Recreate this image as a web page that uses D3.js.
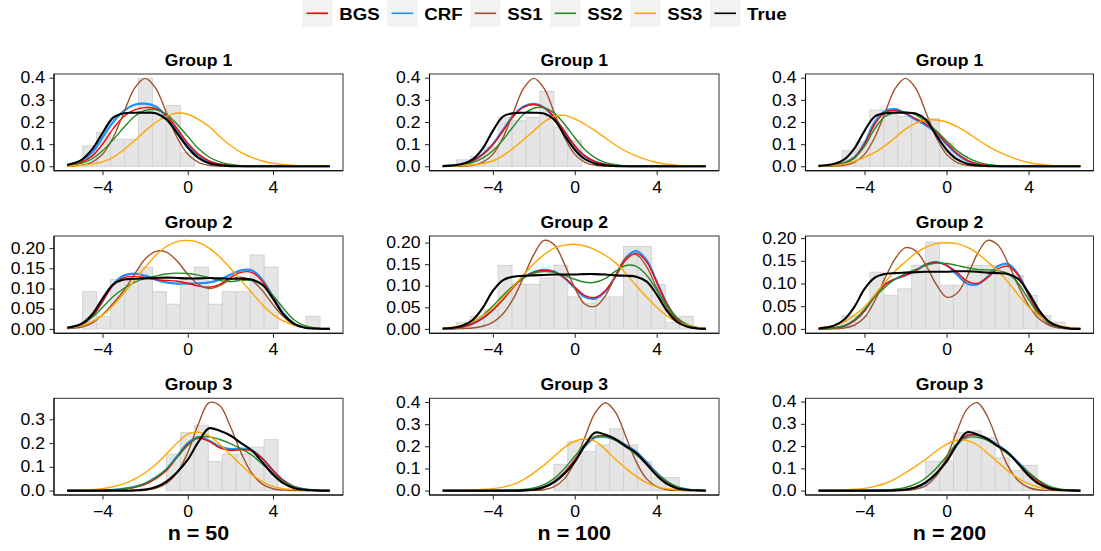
<!DOCTYPE html>
<html><head><meta charset="utf-8">
<script src="https://cdn.jsdelivr.net/npm/d3@7"></script>
<style>body{margin:0;background:#fff}</style>
</head><body><svg id="c" width="1101" height="551"></svg>
<script>
// ---------------- DATA ----------------
const seriesNames = ["BGS","CRF","SS1","SS2","SS3","True"];
const groupTitles = ["Group 1","Group 2","Group 3"];
const sampleLabels = ["n = 50","n = 100","n = 200"];
const xTickValues = [-4,0,4];

// density evaluation grids (x) per column
const gridN50  = [-5.66,-5,-4.5,-4,-3.5,-3,-2.5,-2,-1.5,-1,-0.5,0,0.5,1,1.5,2,2.5,3,3.5,4,4.5,5,5.5,6,6.67];
const gridN100 = [-6.45,-6,-5.5,-5,-4.5,-4,-3.5,-3,-2.5,-2,-1.5,-1,-0.5,0,0.5,1,1.5,2,2.5,3,3.5,4,4.5,5,5.5,6,6.4];
const gridN200 = [-6.24,-5.5,-5,-4.5,-4,-3.5,-3,-2.5,-2,-1.5,-1,-0.5,0,0.5,1,1.5,2,2.5,3,3.5,4,4.5,5,5.5,6,6.53];
const binWidthN50 = 0.655, binWidthN100 = 0.68, binWidthN200 = 0.68;

// ---- Group 1, n = 50
const g1_n50_BGS  = [0.004,0.018,0.045,0.1,0.17,0.225,0.255,0.265,0.26,0.23,0.17,0.105,0.055,0.025,0.01,0.004,0.001,0,0,0,0,0,0,0,0];
const g1_n50_CRF  = [0.006,0.025,0.06,0.13,0.2,0.25,0.278,0.283,0.27,0.225,0.16,0.095,0.05,0.022,0.009,0.003,0.001,0,0,0,0,0,0,0,0];
const g1_n50_SS1  = [0.001,0.004,0.018,0.054,0.13,0.242,0.352,0.397,0.352,0.242,0.13,0.054,0.018,0.004,0.001,0,0,0,0,0,0,0,0,0,0];
const g1_n50_SS2  = [0.003,0.013,0.033,0.07,0.12,0.175,0.225,0.252,0.255,0.235,0.19,0.135,0.08,0.042,0.02,0.008,0.003,0.001,0,0,0,0,0,0,0];
const g1_n50_SS3  = [0.002,0.005,0.01,0.02,0.04,0.075,0.115,0.16,0.198,0.225,0.24,0.235,0.212,0.18,0.135,0.095,0.063,0.04,0.024,0.014,0.008,0.004,0.002,0.001,0];
const g1_n50_True = [0.006,0.028,0.075,0.15,0.22,0.24,0.242,0.242,0.24,0.212,0.15,0.085,0.038,0.014,0.005,0.001,0,0,0,0,0,0,0,0,0];
const g1_n50_histStart = -4.93;
const g1_n50_hist = [0.092,0.153,0.122,0.122,0.397,0.244,0.275,0.061];

// ---- Group 2, n = 50
const g2_n50_BGS  = [0.002,0.01,0.03,0.068,0.108,0.127,0.13,0.127,0.122,0.12,0.118,0.113,0.106,0.103,0.11,0.127,0.14,0.14,0.118,0.078,0.036,0.012,0.003,0.001,0];
const g2_n50_CRF  = [0.002,0.01,0.03,0.068,0.11,0.132,0.137,0.132,0.122,0.115,0.112,0.112,0.113,0.115,0.122,0.134,0.145,0.145,0.122,0.08,0.038,0.013,0.004,0.001,0];
const g2_n50_SS1  = [0.001,0.004,0.014,0.035,0.063,0.095,0.135,0.173,0.192,0.19,0.168,0.135,0.11,0.1,0.107,0.122,0.128,0.12,0.095,0.06,0.03,0.01,0.003,0.001,0];
const g2_n50_SS2  = [0.003,0.012,0.028,0.053,0.08,0.1,0.115,0.125,0.131,0.136,0.138,0.137,0.133,0.127,0.12,0.117,0.12,0.12,0.108,0.083,0.05,0.022,0.008,0.002,0];
const g2_n50_SS3  = [0.002,0.008,0.018,0.034,0.058,0.088,0.12,0.152,0.182,0.204,0.216,0.219,0.214,0.2,0.178,0.15,0.12,0.09,0.06,0.036,0.019,0.009,0.004,0.001,0];
const g2_n50_True = [0.003,0.012,0.035,0.075,0.11,0.122,0.124,0.125,0.126,0.127,0.126,0.125,0.125,0.126,0.125,0.124,0.124,0.122,0.11,0.075,0.035,0.012,0.003,0.001,0];
const g2_n50_histStart = -4.93;
const g2_n50_hist = [0.092,0.031,0.122,0.122,0.153,0.092,0.061,0.122,0.153,0.061,0.092,0.092,0.183,0.153,0,0,0.031];

// ---- Group 3, n = 50
const g3_n50_BGS  = [0,0,0,0.001,0.002,0.006,0.013,0.026,0.05,0.085,0.14,0.195,0.22,0.208,0.18,0.17,0.172,0.168,0.135,0.085,0.042,0.016,0.005,0.001,0];
const g3_n50_CRF  = [0,0,0,0.001,0.003,0.008,0.016,0.03,0.055,0.09,0.145,0.2,0.225,0.21,0.185,0.175,0.177,0.17,0.135,0.085,0.042,0.016,0.005,0.001,0];
const g3_n50_SS1  = [0,0,0,0,0,0,0,0.002,0.01,0.03,0.075,0.16,0.28,0.37,0.358,0.27,0.16,0.074,0.027,0.008,0.002,0,0,0,0];
const g3_n50_SS2  = [0,0,0,0.001,0.003,0.007,0.015,0.03,0.055,0.09,0.14,0.19,0.225,0.226,0.215,0.198,0.176,0.15,0.112,0.072,0.038,0.016,0.006,0.002,0];
const g3_n50_SS3  = [0.001,0.002,0.004,0.008,0.016,0.028,0.048,0.075,0.11,0.155,0.2,0.238,0.246,0.23,0.195,0.152,0.108,0.068,0.038,0.018,0.008,0.004,0.002,0.001,0];
const g3_n50_True = [0,0,0,0,0,0,0.001,0.004,0.015,0.038,0.077,0.13,0.205,0.262,0.252,0.232,0.2,0.17,0.12,0.068,0.03,0.01,0.003,0.001,0];
const g3_n50_histStart = -1.0;
const g3_n50_hist = [0.153,0.244,0.275,0.122,0.153,0.153,0.183,0.214];

// ---- Group 1, n = 100
const g1_n100_BGS  = [0.001,0.003,0.009,0.023,0.052,0.097,0.16,0.225,0.267,0.279,0.265,0.222,0.158,0.093,0.047,0.021,0.008,0.003,0.001,0,0,0,0,0,0,0,0];
const g1_n100_CRF  = [0.001,0.004,0.01,0.025,0.055,0.1,0.165,0.23,0.27,0.282,0.265,0.22,0.155,0.09,0.045,0.02,0.008,0.003,0.001,0,0,0,0,0,0,0,0];
const g1_n100_SS1  = [0,0,0.001,0.004,0.018,0.054,0.13,0.242,0.352,0.397,0.352,0.242,0.13,0.054,0.018,0.004,0.001,0,0,0,0,0,0,0,0,0,0];
const g1_n100_SS2  = [0.001,0.003,0.007,0.017,0.037,0.07,0.12,0.18,0.235,0.262,0.265,0.24,0.19,0.13,0.075,0.038,0.017,0.007,0.002,0.001,0,0,0,0,0,0,0];
const g1_n100_SS3  = [0,0.001,0.003,0.006,0.012,0.024,0.048,0.082,0.12,0.16,0.2,0.226,0.23,0.214,0.19,0.16,0.128,0.095,0.068,0.047,0.03,0.017,0.009,0.005,0.002,0.001,0];
const g1_n100_True = [0.001,0.003,0.01,0.03,0.08,0.16,0.225,0.24,0.242,0.242,0.238,0.21,0.14,0.075,0.032,0.012,0.004,0.001,0,0,0,0,0,0,0,0,0];
const g1_n100_histStart = -5.78;
const g1_n100_hist = [0.029,0.044,0.088,0.221,0.206,0.221,0.338,0.176,0.118];

// ---- Group 2, n = 100
const g2_n100_BGS  = [0,0.001,0.004,0.011,0.024,0.043,0.068,0.096,0.119,0.131,0.136,0.132,0.118,0.097,0.077,0.073,0.089,0.122,0.16,0.175,0.156,0.108,0.058,0.023,0.007,0.002,0];
const g2_n100_CRF  = [0,0.001,0.004,0.012,0.025,0.045,0.07,0.098,0.12,0.132,0.137,0.133,0.118,0.095,0.074,0.07,0.087,0.123,0.165,0.18,0.16,0.11,0.058,0.023,0.007,0.002,0];
const g2_n100_SS1  = [0,0,0.001,0.002,0.006,0.015,0.035,0.07,0.12,0.172,0.205,0.195,0.15,0.095,0.057,0.052,0.077,0.125,0.165,0.172,0.145,0.095,0.05,0.02,0.006,0.001,0];
const g2_n100_SS2  = [0.001,0.002,0.006,0.015,0.031,0.053,0.078,0.1,0.118,0.129,0.133,0.131,0.124,0.115,0.108,0.108,0.117,0.134,0.147,0.145,0.125,0.09,0.054,0.026,0.01,0.003,0.001];
const g2_n100_SS3  = [0.002,0.004,0.008,0.016,0.03,0.048,0.072,0.098,0.125,0.151,0.172,0.187,0.194,0.196,0.192,0.183,0.17,0.153,0.128,0.1,0.074,0.05,0.03,0.016,0.008,0.003,0.002];
const g2_n100_True = [0.001,0.002,0.007,0.02,0.048,0.088,0.113,0.121,0.123,0.124,0.125,0.126,0.126,0.126,0.127,0.127,0.126,0.124,0.123,0.121,0.11,0.08,0.042,0.016,0.005,0.001,0];
const g2_n100_histStart = -5.78;
const g2_n100_hist = [0.015,0.029,0.044,0.147,0.103,0.103,0.118,0.147,0.074,0.059,0.074,0.074,0.191,0.191,0.103,0.015,0.029];

// ---- Group 3, n = 100
const g3_n100_BGS  = [0,0,0,0,0,0,0,0,0.001,0.005,0.018,0.042,0.083,0.14,0.205,0.245,0.248,0.23,0.2,0.168,0.125,0.076,0.037,0.014,0.004,0.001,0];
const g3_n100_CRF  = [0,0,0,0,0,0,0,0,0.001,0.005,0.017,0.04,0.08,0.135,0.2,0.24,0.243,0.23,0.205,0.175,0.13,0.08,0.04,0.015,0.005,0.001,0];
const g3_n100_SS1  = [0,0,0,0,0,0,0,0,0,0.001,0.004,0.018,0.054,0.13,0.242,0.352,0.397,0.352,0.242,0.13,0.054,0.018,0.004,0.001,0,0,0];
const g3_n100_SS2  = [0,0,0,0,0,0,0.001,0.002,0.005,0.012,0.027,0.055,0.1,0.155,0.21,0.243,0.244,0.226,0.197,0.162,0.12,0.078,0.042,0.018,0.006,0.002,0.001];
const g3_n100_SS3  = [0,0.001,0.002,0.003,0.005,0.009,0.016,0.028,0.05,0.08,0.115,0.155,0.195,0.223,0.233,0.222,0.185,0.14,0.1,0.064,0.036,0.018,0.008,0.004,0.001,0,0];
const g3_n100_True = [0,0,0,0,0,0,0,0,0.001,0.004,0.015,0.038,0.077,0.13,0.205,0.262,0.252,0.232,0.2,0.17,0.12,0.068,0.03,0.01,0.003,0.001,0];
const g3_n100_histStart = -1.02;
const g3_n100_hist = [0.118,0.221,0.176,0.206,0.279,0.206,0.132,0.059,0.059];

// ---- Group 1, n = 200
const g1_n200_BGS  = [0.001,0.005,0.014,0.038,0.1,0.19,0.243,0.252,0.24,0.215,0.19,0.155,0.105,0.06,0.028,0.011,0.004,0.001,0,0,0,0,0,0,0,0];
const g1_n200_CRF  = [0.001,0.006,0.015,0.04,0.105,0.2,0.25,0.258,0.238,0.21,0.185,0.15,0.1,0.055,0.025,0.01,0.004,0.001,0,0,0,0,0,0,0,0];
const g1_n200_SS1  = [0,0.001,0.004,0.018,0.054,0.13,0.242,0.352,0.397,0.352,0.242,0.13,0.054,0.018,0.004,0.001,0,0,0,0,0,0,0,0,0,0];
const g1_n200_SS2  = [0.001,0.005,0.014,0.036,0.09,0.17,0.225,0.243,0.245,0.232,0.2,0.16,0.115,0.072,0.04,0.02,0.008,0.003,0.001,0,0,0,0,0,0,0];
const g1_n200_SS3  = [0.001,0.004,0.01,0.022,0.04,0.063,0.092,0.13,0.168,0.195,0.21,0.209,0.2,0.18,0.153,0.122,0.092,0.067,0.047,0.03,0.017,0.009,0.005,0.002,0.001,0];
const g1_n200_True = [0.002,0.01,0.03,0.08,0.16,0.225,0.24,0.242,0.242,0.238,0.21,0.14,0.075,0.032,0.012,0.004,0.001,0,0,0,0,0,0,0,0,0];
const g1_n200_histStart = -5.1;
const g1_n200_hist = [0.07,0.11,0.254,0.235,0.225,0.212,0.215,0.104,0.047];

// ---- Group 2, n = 200
const g2_n200_BGS  = [0,0.002,0.006,0.018,0.04,0.073,0.098,0.11,0.118,0.128,0.142,0.147,0.14,0.125,0.105,0.1,0.113,0.132,0.138,0.118,0.075,0.035,0.012,0.003,0.001,0];
const g2_n200_CRF  = [0,0.002,0.006,0.018,0.04,0.073,0.098,0.11,0.118,0.128,0.142,0.147,0.14,0.12,0.1,0.098,0.115,0.138,0.143,0.12,0.075,0.035,0.012,0.003,0.001,0];
const g2_n200_SS1  = [0,0,0.002,0.008,0.025,0.062,0.112,0.155,0.179,0.172,0.14,0.098,0.07,0.078,0.115,0.165,0.195,0.185,0.145,0.095,0.052,0.023,0.008,0.002,0,0];
const g2_n200_SS2  = [0,0.002,0.007,0.02,0.043,0.07,0.092,0.11,0.122,0.131,0.14,0.145,0.144,0.14,0.135,0.131,0.13,0.128,0.122,0.1,0.065,0.032,0.012,0.004,0.001,0];
const g2_n200_SS3  = [0.002,0.007,0.015,0.03,0.049,0.075,0.103,0.128,0.148,0.167,0.18,0.188,0.19,0.188,0.18,0.167,0.148,0.128,0.103,0.075,0.049,0.03,0.015,0.007,0.003,0.001];
const g2_n200_True = [0.001,0.007,0.02,0.048,0.088,0.113,0.121,0.123,0.124,0.125,0.126,0.126,0.126,0.127,0.127,0.126,0.124,0.123,0.121,0.11,0.08,0.042,0.016,0.005,0.001,0];
const g2_n200_histStart = -5.1;
const g2_n200_hist = [0.029,0.029,0.125,0.074,0.088,0.14,0.191,0.096,0.096,0.14,0.14,0.14,0.118,0.074,0.029,0.015];

// ---- Group 3, n = 200
const g3_n200_BGS  = [0,0,0,0,0,0,0.001,0.002,0.005,0.015,0.038,0.078,0.138,0.207,0.248,0.25,0.23,0.2,0.166,0.124,0.078,0.039,0.015,0.004,0.001,0];
const g3_n200_CRF  = [0,0,0,0,0,0,0.001,0.002,0.004,0.013,0.035,0.075,0.135,0.205,0.247,0.25,0.232,0.205,0.17,0.127,0.08,0.04,0.015,0.004,0.001,0];
const g3_n200_SS1  = [0,0,0,0,0,0,0,0,0.001,0.006,0.022,0.065,0.149,0.265,0.366,0.395,0.332,0.217,0.11,0.044,0.014,0.003,0.001,0,0,0];
const g3_n200_SS2  = [0,0,0,0,0,0.001,0.002,0.006,0.014,0.03,0.058,0.1,0.155,0.21,0.238,0.24,0.226,0.198,0.163,0.123,0.082,0.046,0.02,0.007,0.002,0];
const g3_n200_SS3  = [0.001,0.002,0.003,0.006,0.01,0.019,0.032,0.053,0.08,0.11,0.142,0.178,0.208,0.226,0.225,0.205,0.168,0.128,0.088,0.055,0.03,0.015,0.007,0.003,0.001,0];
const g3_n200_True = [0,0,0,0,0,0,0,0.001,0.004,0.015,0.038,0.077,0.13,0.205,0.262,0.252,0.232,0.2,0.17,0.12,0.068,0.03,0.01,0.003,0.001,0];
const g3_n200_histStart = -1.02;
const g3_n200_hist = [0.132,0.132,0.26,0.268,0.238,0.147,0.09,0.113,0.015];

// -------------- assembly --------------
const columns = [
  {grid: gridN50,  bw: binWidthN50},
  {grid: gridN100, bw: binWidthN100},
  {grid: gridN200, bw: binWidthN200}
];
const panelData = [
  [
    {series:[g1_n50_BGS,g1_n50_CRF,g1_n50_SS1,g1_n50_SS2,g1_n50_SS3,g1_n50_True], hs:g1_n50_histStart, hist:g1_n50_hist},
    {series:[g1_n100_BGS,g1_n100_CRF,g1_n100_SS1,g1_n100_SS2,g1_n100_SS3,g1_n100_True], hs:g1_n100_histStart, hist:g1_n100_hist},
    {series:[g1_n200_BGS,g1_n200_CRF,g1_n200_SS1,g1_n200_SS2,g1_n200_SS3,g1_n200_True], hs:g1_n200_histStart, hist:g1_n200_hist}
  ],
  [
    {series:[g2_n50_BGS,g2_n50_CRF,g2_n50_SS1,g2_n50_SS2,g2_n50_SS3,g2_n50_True], hs:g2_n50_histStart, hist:g2_n50_hist},
    {series:[g2_n100_BGS,g2_n100_CRF,g2_n100_SS1,g2_n100_SS2,g2_n100_SS3,g2_n100_True], hs:g2_n100_histStart, hist:g2_n100_hist},
    {series:[g2_n200_BGS,g2_n200_CRF,g2_n200_SS1,g2_n200_SS2,g2_n200_SS3,g2_n200_True], hs:g2_n200_histStart, hist:g2_n200_hist}
  ],
  [
    {series:[g3_n50_BGS,g3_n50_CRF,g3_n50_SS1,g3_n50_SS2,g3_n50_SS3,g3_n50_True], hs:g3_n50_histStart, hist:g3_n50_hist},
    {series:[g3_n100_BGS,g3_n100_CRF,g3_n100_SS1,g3_n100_SS2,g3_n100_SS3,g3_n100_True], hs:g3_n100_histStart, hist:g3_n100_hist},
    {series:[g3_n200_BGS,g3_n200_CRF,g3_n200_SS1,g3_n200_SS2,g3_n200_SS3,g3_n200_True], hs:g3_n200_histStart, hist:g3_n200_hist}
  ]
];

// -------------- style / layout --------------
const colors = {BGS:"#FF0000", CRF:"#1E90FF", SS1:"#A0522D", SS2:"#228B22", SS3:"#FFA500", True:"#000000"};
const widths = {BGS:1.4, CRF:2.2, SS1:1.4, SS2:1.4, SS3:1.4, True:2.1};
const drawOrder = ["CRF","BGS","SS1","SS2","SS3","True"];
const SX = 1.1;   // horizontal text stretch
const FONT = "'Liberation Sans', Arial, Helvetica, sans-serif";
const colLeft  = [54, 429.5, 805.5];
const colRight = [343, 719, 1093.5];
const rowTop   = [74, 236, 398.3];
const rowBot   = [170.7, 333.3, 495];

const svg = d3.select("#c");
svg.append("rect").attr("width",1101).attr("height",551).attr("fill","#fff");
const defs = svg.append("defs");

function stretchText(sel){
  sel.each(function(){
    const t = d3.select(this);
    const x = +(t.attr("x")||0);
    t.attr("x", x/SX).attr("transform", `scale(${SX},1)`);
  });
}

panelData.forEach((row, r) => {
  row.forEach((p, c) => {
    const grid = columns[c].grid, bw = columns[c].bw;
    const gmin = d3.min(grid), gmax = d3.max(grid), gr = gmax - gmin;
    const x = d3.scaleLinear().domain([gmin - 0.05*gr, gmax + 0.05*gr]).range([colLeft[c], colRight[c]]);
    const ymax = d3.max([d3.max(p.hist), ...p.series.map(s => d3.max(s))]);
    const y = d3.scaleLinear().domain([-0.05*ymax, 1.05*ymax]).range([rowBot[r], rowTop[r]]);
    const id = `clip${r}${c}`;
    defs.append("clipPath").attr("id", id).append("rect")
      .attr("x", colLeft[c]).attr("y", rowTop[r])
      .attr("width", colRight[c]-colLeft[c]).attr("height", rowBot[r]-rowTop[r]);
    const g = svg.append("g");
    const inner = g.append("g").attr("clip-path", `url(#${id})`);

    const bins = p.hist.map((h,i) => ({x0: p.hs + i*bw, x1: p.hs + (i+1)*bw, h})).filter(d => d.h > 0);
    inner.selectAll("rect.bar").data(bins).join("rect").attr("class","bar")
      .attr("x", d => x(d.x0)).attr("width", d => x(d.x1) - x(d.x0))
      .attr("y", d => y(d.h)).attr("height", d => y(0) - y(d.h))
      .attr("fill", "#e5e5e5").attr("stroke", "#d2d2d2").attr("stroke-width", 1);

    const line = d3.line().x((d,i) => x(grid[i])).y(d => y(d)).curve(d3.curveCatmullRom.alpha(0.5));
    drawOrder.forEach(name => {
      const k = seriesNames.indexOf(name);
      inner.append("path").attr("d", line(p.series[k]))
        .attr("fill","none").attr("stroke", colors[name]).attr("stroke-width", widths[name])
        .attr("stroke-linejoin","round");
    });

    g.append("rect").attr("x", colLeft[c]).attr("y", rowTop[r])
      .attr("width", colRight[c]-colLeft[c]).attr("height", rowBot[r]-rowTop[r])
      .attr("fill","none").attr("stroke","#333").attr("stroke-width",1);

    const step = d3.tickStep(0, ymax, 5);
    const fmt = d3.format(step < 0.1 ? ".2f" : ".1f");
    const ya = g.append("g").attr("transform", `translate(${colLeft[c]},0)`)
      .call(d3.axisLeft(y).ticks(5).tickFormat(fmt).tickSize(4.5).tickPadding(4.5));
    const xa = g.append("g").attr("transform", `translate(0,${rowBot[r]})`)
      .call(d3.axisBottom(x).tickValues(xTickValues).tickFormat(d => d < 0 ? "\u2212" + Math.abs(d) : String(d)).tickSize(4.5).tickPadding(6));
    [ya, xa].forEach(a => {
      a.select(".domain").attr("stroke","#000").attr("stroke-width",1.1);
      a.selectAll(".tick line").attr("stroke","#222").attr("stroke-width",1);
      a.selectAll(".tick text").attr("font-family", FONT).attr("font-size", "16px").attr("fill", "#000");
      stretchText(a.selectAll(".tick text"));
    });
    ya.select(".domain").attr("d", `M0,${rowBot[r]}V${rowTop[r]}`);
    xa.select(".domain").attr("d", `M${colLeft[c]},0H${colRight[c]}`);

    const cx = (colLeft[c] + colRight[c]) / 2;
    g.append("text").attr("x", cx/SX).attr("y", rowTop[r] - 8).attr("transform", `scale(${SX},1)`)
      .attr("text-anchor","middle").attr("font-family", FONT).attr("font-weight","bold")
      .attr("font-size","16px").attr("fill","#000").text(groupTitles[r]);

    if (r === 2) {
      g.append("text").attr("x", cx/SX).attr("y", 540).attr("transform", `scale(${SX},1)`)
        .attr("text-anchor","middle").attr("font-family", FONT).attr("font-weight","bold")
        .attr("font-size","19.5px").attr("fill","#000").text(sampleLabels[c]);
    }
  });
});

// legend
const leg = svg.append("g");
let lx = 302;
seriesNames.forEach(name => {
  leg.append("rect").attr("x", lx).attr("y", 0).attr("width", 30.5).attr("height", 26.5).attr("fill", "#f2f2f2");
  leg.append("line").attr("x1", lx + 4.5).attr("x2", lx + 26).attr("y1", 13.3).attr("y2", 13.3)
    .attr("stroke", colors[name]).attr("stroke-width", 1.6);
  const tx = lx + 30.5 + 6.7;
  const t = leg.append("text").attr("x", tx/SX).attr("y", 20).attr("transform", `scale(${SX},1)`)
    .attr("font-family", FONT).attr("font-weight","bold").attr("font-size","17px").attr("fill","#000").text(name);
  const w = t.node().getComputedTextLength() * SX;
  lx = tx + w + 7.4;
});
</script>
</body></html>
